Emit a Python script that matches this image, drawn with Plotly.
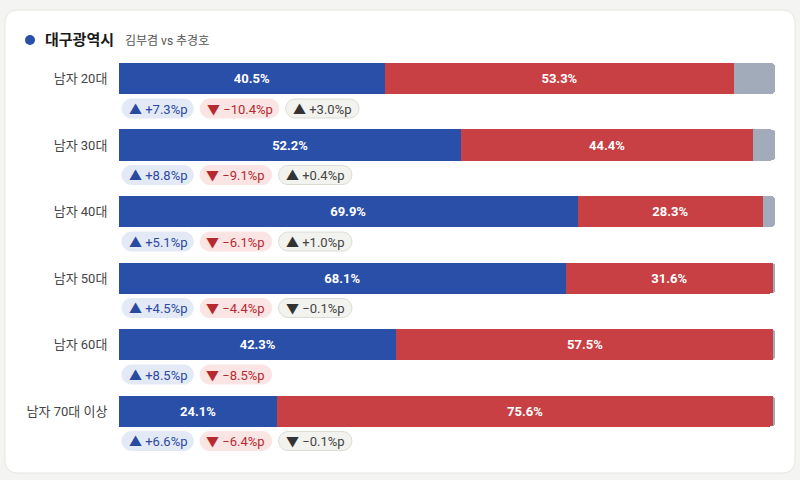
import plotly.graph_objects as go

# data
groups = ["남자 20대", "남자 30대", "남자 40대", "남자 50대", "남자 60대", "남자 70대 이상"]
kim = [40.5, 52.2, 69.9, 68.1, 42.3, 24.1]
choo = [53.3, 44.4, 28.3, 31.6, 57.5, 75.6]
other = [6.2, 3.4, 1.8, 0.3, 0.2, 0.3]
kim_diff = [7.3, 8.8, 5.1, 4.5, 8.5, 6.6]
choo_diff = [-10.4, -9.1, -6.1, -4.4, -8.5, -6.4]
other_diff = [3.0, 0.4, 1.0, -0.1, None, -0.1]

BLUE = "#2a4fa8"
RED = "#c84043"
GRAY = "#a1abba"
FONT = "Roboto, 'Noto Sans CJK KR', sans-serif"

# pixel geometry of the plot area
L, R, T, B = 119, 25, 37, 4
W, H = 800 - L - R, 480 - T - B
Y0 = -0.624
YSPAN = 6.6


def px_x(px):
    return (px - L) / W * 100


def px_y(py):
    return Y0 + (py - T) / H * YSPAN


def paper_x(px):
    return (px - L) / W


def paper_y(py):
    return (480 - B - py) / H


def rounded(x0, y0, x1, y1, r, fx, fy):
    # rounded rectangle in pixels -> svg path in target coords
    k = 0.5523 * r
    pts = [
        ("M", [(x0 + r, y0)]),
        ("L", [(x1 - r, y0)]),
        ("C", [(x1 - r + k, y0), (x1, y0 + r - k), (x1, y0 + r)]),
        ("L", [(x1, y1 - r)]),
        ("C", [(x1, y1 - r + k), (x1 - r + k, y1), (x1 - r, y1)]),
        ("L", [(x0 + r, y1)]),
        ("C", [(x0 + r - k, y1), (x0, y1 - r + k), (x0, y1 - r)]),
        ("L", [(x0, y0 + r)]),
        ("C", [(x0, y0 + r - k), (x0 + r - k, y0), (x0 + r, y0)]),
    ]
    out = ""
    for cmd, ps in pts:
        out += cmd + " " + " ".join(f"{fx(a):.4f},{fy(b):.4f}" for a, b in ps) + " "
    return out + "Z"


# rough glyph widths at 13px
CW = {".": 3.3, "%": 10.2, "p": 7.4, "+": 7.4, "−": 7.4, " ": 3.2, "▲": 9.6, "▼": 9.6}


def text_w(s):
    return sum(CW.get(c, 7.1) for c in s)


fig = go.Figure()
ypos = list(range(len(groups)))

fig.add_trace(go.Bar(
    y=ypos, x=kim, orientation="h", marker=dict(color=BLUE, line=dict(width=0)),
    texttemplate="%{x:.1f}%", textposition="inside", insidetextanchor="middle",
    textfont=dict(color="white", size=13, family=FONT, weight="bold"),
    width=0.467, name="김부겸",
))
fig.add_trace(go.Bar(
    y=ypos, x=choo, orientation="h", marker=dict(color=RED, line=dict(width=0)),
    texttemplate="%{x:.1f}%", textposition="inside", insidetextanchor="middle",
    textfont=dict(color="white", size=13, family=FONT, weight="bold"),
    width=0.467, name="추경호",
))
fig.add_trace(go.Bar(
    y=ypos, x=other, orientation="h", marker=dict(color=GRAY, line=dict(width=0)),
    textposition="none", width=0.467, name="기타",
))

shapes = []
annotations = []

# card
shapes.append(dict(type="path", xref="paper", yref="paper", layer="below",
                   path=rounded(5, 10, 795, 473, 12, paper_x, paper_y),
                   fillcolor="white", line=dict(color="#e4e4df", width=1)))

# title
shapes.append(dict(type="circle", xref="paper", yref="paper",
                   x0=paper_x(25), x1=paper_x(35), y0=paper_y(45), y1=paper_y(35),
                   fillcolor=BLUE, line=dict(width=0)))
annotations.append(dict(xref="paper", yref="paper", x=paper_x(43), y=paper_y(40),
                        xanchor="left", yanchor="middle", showarrow=False,
                        text="<b>대구광역시</b>", font=dict(size=15, color="#1a1a1a", family=FONT)))
annotations.append(dict(xref="paper", yref="paper", x=paper_x(123), y=paper_y(40.5),
                        xanchor="left", yanchor="middle", showarrow=False,
                        text="김부겸 vs 추경호", font=dict(size=12, color="#555", family=FONT)))

# change chips
styles = {
    "kim": dict(bg="#e4e9f6", border="#e4e9f6", color="#2a4aa0", arrow="#2a4aa0", extra=0),
    "choo": dict(bg="#fbe4e4", border="#fbe4e4", color="#b52a2f", arrow="#b52a2f", extra=0),
    "other": dict(bg="#f2f2ee", border="#dcdcd4", color="#444", arrow="#333", extra=2),
}
ROW0, ROWSTEP = 78.5, 66.5
for i in range(len(groups)):
    cy = ROW0 + i * ROWSTEP + 30
    xpx = 122
    for key, val in (("kim", kim_diff[i]), ("choo", choo_diff[i]), ("other", other_diff[i])):
        if val is None:
            continue
        st = styles[key]
        arrow = "▲" if val >= 0 else "▼"
        num = ("+" if val >= 0 else "−") + f"{abs(val):.1f}%p"
        w = text_w(arrow + " " + num) + 16 + st["extra"]
        shapes.append(dict(type="path", xref="x", yref="y", layer="above",
                           path=rounded(xpx, cy - 9.5, xpx + w, cy + 9.5, 9.5, px_x, px_y),
                           fillcolor=st["bg"], line=dict(color=st["border"], width=1)))
        annotations.append(dict(
            xref="x", yref="y", x=px_x(xpx + w / 2), y=px_y(cy + 0.5), showarrow=False,
            xanchor="center", yanchor="middle",
            text=f"<span style='color:{st['arrow']}'>{arrow}</span> {num}",
            font=dict(size=13, color=st["color"], family=FONT)))
        xpx += w + 7

fig.update_layout(
    width=800, height=480,
    margin=dict(l=L, r=R, t=T, b=B),
    barmode="stack", barcornerradius=4,
    paper_bgcolor="#f4f4f2", plot_bgcolor="rgba(0,0,0,0)",
    showlegend=False,
    xaxis=dict(range=[0, 100], visible=False, fixedrange=True),
    yaxis=dict(range=[Y0 + YSPAN, Y0], tickvals=ypos, ticktext=groups,
               showgrid=False, zeroline=False, showline=False, fixedrange=True,
               ticks="outside", ticklen=8, tickcolor="rgba(0,0,0,0)",
               tickfont=dict(size=13, color="#444", family=FONT)),
    shapes=shapes, annotations=annotations,
    font=dict(family=FONT),
)

# page body has a default margin; drop it so the figure sits at 0,0
fig.write_html("out.html", config={"displayModeBar": False},
               post_script="document.body.style.margin='0';")
